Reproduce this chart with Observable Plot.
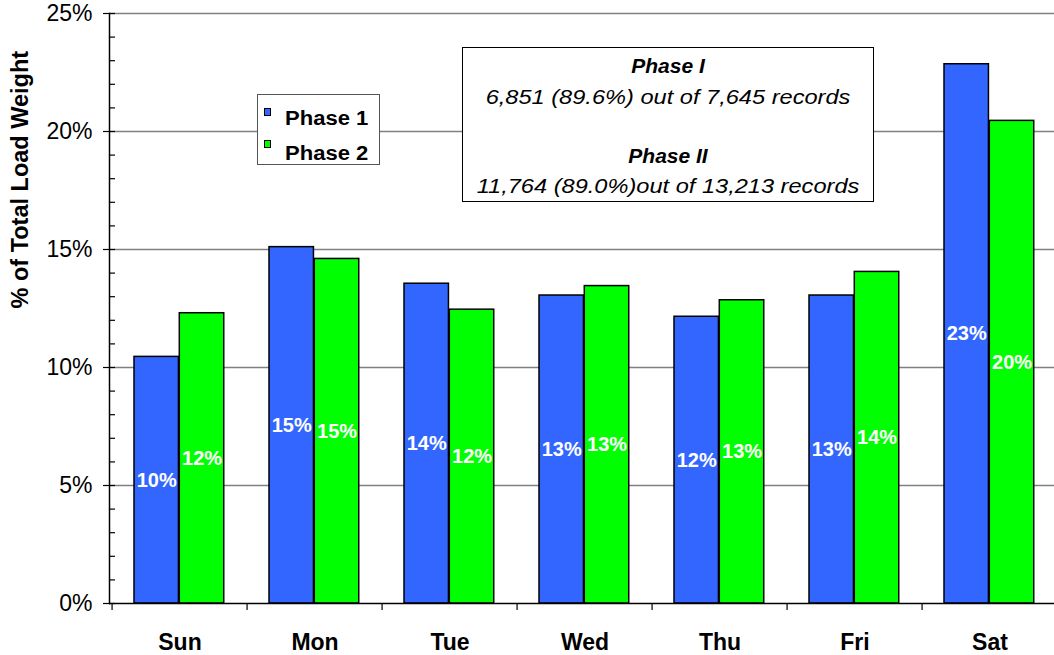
<!DOCTYPE html>
<html>
<head>
<meta charset="utf-8">
<script src="https://cdn.jsdelivr.net/npm/d3@7"></script>
<script src="https://cdn.jsdelivr.net/npm/@observablehq/plot@0.6"></script>
<style>
  html, body { margin: 0; padding: 0; background: #fff; overflow: hidden; }
  #wrap { position: relative; width: 1054px; height: 655px; font-family: "Liberation Sans", Arial, sans-serif; }
  #legend { position: absolute; left: 257px; top: 94px; width: 121px; height: 69px; border: 1px solid #555; background: #fff; }
  .lrow { position: absolute; left: 27px; font-weight: bold; font-size: 19.5px; line-height: 1; color: #000; white-space: nowrap; transform: scaleX(1.13); transform-origin: left center; }
  .sw { position: absolute; left: 6px; width: 5px; height: 6px; border: 1px solid #000; }
  #note { position: absolute; left: 462px; top: 47px; width: 410px; height: 153px; border: 1px solid #000; background: #fff; text-align: center; color: #000; }
  .nl { position: absolute; left: 0; width: 100%; white-space: nowrap; line-height: 1; font-style: italic; transform-origin: center center; }
</style>
</head>
<body>
<div id="wrap"></div>
<script>
const days = ["Sun", "Mon", "Tue", "Wed", "Thu", "Fri", "Sat"];
const phases = ["Phase 1", "Phase 2"];
const phase1 = [10.45, 15.1, 13.55, 13.05, 12.15, 13.05, 22.85];
const phase2 = [12.3, 14.6, 12.45, 13.45, 12.85, 14.05, 20.45];
const colors = ["#3366FF", "#00FF00"];
const yTicks = [0, 5, 10, 15, 20, 25];
const yMinor = d3.range(0, 26, 1);
const yLabel = "% of Total Load Weight";
const noteLines = [
  {text: "Phase I", bold: true},
  {text: "6,851 (89.6%) out of 7,645 records", bold: false},
  {text: "Phase II", bold: true},
  {text: "11,764 (89.0%)out of 13,213 records", bold: false}
];

const data = days.flatMap((d, i) => [
  {day: d, phase: phases[0], value: phase1[i]},
  {day: d, phase: phases[1], value: phase2[i]}
]);

const W = 1054, mL = 109, mR = -6;
const bw = (W - mL - mR) / days.length;
const barW = 45.3, gap = 22;

const chart = Plot.plot({
  width: W, height: 655,
  marginLeft: mL, marginRight: mR, marginTop: 13, marginBottom: 52,
  style: {fontFamily: "'Liberation Sans', Arial, sans-serif", background: "transparent", overflow: "hidden"},
  x: {domain: days, padding: 0, axis: null},
  y: {domain: [0, 25], axis: null},
  marks: [
    Plot.ruleY(yTicks.filter(d => d > 0), {stroke: "#808080", strokeWidth: 1.4}),
    Plot.barY(data.filter(d => d.phase === phases[0]), {x: "day", y: "value", fill: colors[0], stroke: "#000", strokeWidth: 1.5, insetLeft: gap, insetRight: bw - gap - barW}),
    Plot.barY(data.filter(d => d.phase === phases[1]), {x: "day", y: "value", fill: colors[1], stroke: "#000", strokeWidth: 1.5, insetLeft: gap + barW, insetRight: bw - gap - 2 * barW}),
    Plot.text(data.filter(d => d.phase === phases[0]), {x: "day", y: d => d.value / 2, text: d => Math.round(d.value) + "%", dx: gap + barW / 2 - bw / 2, fill: "#fff", fontWeight: "bold", fontSize: 20}),
    Plot.text(data.filter(d => d.phase === phases[1]), {x: "day", y: d => d.value / 2, text: d => Math.round(d.value) + "%", dx: gap + 1.5 * barW - bw / 2, fill: "#fff", fontWeight: "bold", fontSize: 20}),
    Plot.ruleY([0], {stroke: "#000", strokeWidth: 1.5}),
    Plot.frame({anchor: "left", stroke: "#000", strokeWidth: 1.5}),
    Plot.axisY({ticks: yTicks, tickFormat: d => d + "%", tickSize: 6, tickPadding: 11, fontSize: 23, stroke: "#000", strokeWidth: 1.2, label: null, color: "#000"}),
    Plot.axisY({ticks: yMinor, tickFormat: () => "", tickSize: -6, stroke: "#000", strokeWidth: 1.2, label: null}),
    Plot.ruleX(days, {x: d => d, dx: -bw / 2, y1: 0, y2: 0, insetBottom: -7, stroke: "#000", strokeWidth: 1.2}),
    Plot.axisX({tickSize: 0, tickPadding: 30, fontSize: 23, fontWeight: "bold", label: null, color: "#000"}),
    Plot.text([yLabel], {frameAnchor: "left", rotate: -90, dx: -89, fontWeight: "bold", fontSize: 23.5, fill: "#000"})
  ]
});

const wrap = document.getElementById("wrap");
wrap.appendChild(chart);

// legend
const legend = document.createElement("div");
legend.id = "legend";
const rowTops = [13.5, 48.5];
const swTops = [13, 45];
phases.forEach((p, i) => {
  const sw = document.createElement("div");
  sw.className = "sw";
  sw.style.top = swTops[i] + "px";
  sw.style.background = colors[i];
  legend.appendChild(sw);
  const row = document.createElement("div");
  row.className = "lrow";
  row.style.top = rowTops[i] + "px";
  row.textContent = p;
  legend.appendChild(row);
});
wrap.appendChild(legend);

// annotation box
const note = document.createElement("div");
note.id = "note";
const tops = [7.2, 39.1, 97.2, 128.1];
noteLines.forEach((l, i) => {
  const d = document.createElement("div");
  d.className = "nl";
  d.style.top = tops[i] + "px";
  if (l.bold) {
    d.style.fontWeight = "bold";
    d.style.fontSize = "21px";
  } else {
    d.style.fontSize = "20px";
    d.style.transform = "scaleX(1.18)";
  }
  d.textContent = l.text;
  note.appendChild(d);
});
wrap.appendChild(note);
</script>
</body>
</html>
